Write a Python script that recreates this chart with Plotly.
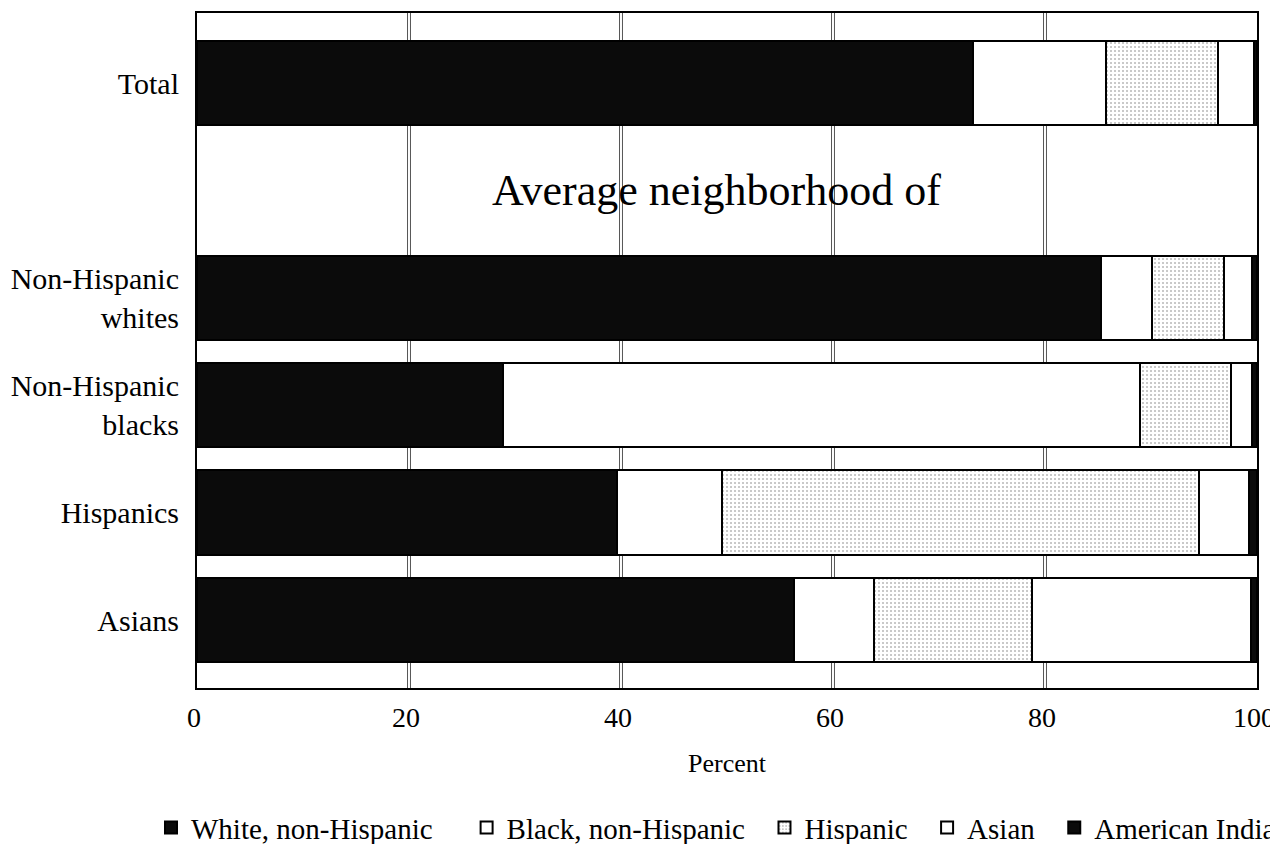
import plotly.graph_objects as go

# Values (percent of average neighbourhood)
groups = ["Total", " ", "Non-Hispanic<br>whites", "Non-Hispanic<br>blacks", "Hispanics", "Asians"]
bar_groups = ["Total", "Non-Hispanic<br>whites", "Non-Hispanic<br>blacks", "Hispanics", "Asians"]

white_nh = [73.2, 85.3, 28.9, 39.6, 56.3]
black_nh = [12.6, 4.8, 60.1, 9.9, 7.6]
hispanic = [10.5, 6.8, 8.5, 45.0, 14.9]
asian = [3.4, 2.6, 2.0, 4.7, 20.6]
american_indian = [0.3, 0.5, 0.5, 0.8, 0.6]

x_ticks = [0, 20, 40, 60, 80, 100]

SERIF = "Liberation Serif, Times New Roman, serif"
NBSP = "\u00a0"  # used to space the legend entries like the print

# (name, values, marker style, trailing legend padding)
series = [
    ("White, non-Hispanic", white_nh, dict(color="#0b0b0b"), 4),
    ("Black, non-Hispanic", black_nh, dict(color="white"), 2),
    ("Hispanic", hispanic, dict(color="white",
                                pattern=dict(shape=".", fgcolor="#777777", bgcolor="white",
                                             size=4, solidity=0.22)), 2),
    ("Asian", asian, dict(color="white"), 2),
    ("American Indian", american_indian, dict(color="#0b0b0b"), 0),
]

fig = go.Figure()

for name, vals, marker, pad in series:
    fig.add_trace(
        go.Bar(
            x=vals,
            y=bar_groups,
            orientation="h",
            name=name + NBSP * pad,
            marker=dict(**marker, line=dict(color="black", width=2)),
        )
    )

# double grid lines like the printed figure (hidden behind the bars)
for v in x_ticks[1:-1]:
    for off in (-0.14, 0.14):
        fig.add_vline(x=v + off, line_color="#555555", line_width=1, layer="below")

fig.add_annotation(
    x=49, y=" ", text="Average neighborhood of", showarrow=False,
    font=dict(family=SERIF, size=44, color="black"),
)

fig.update_layout(
    width=1270,
    height=836,
    barmode="stack",
    bargap=0.215,
    plot_bgcolor="white",
    paper_bgcolor="white",
    margin=dict(l=189, r=21, t=5, b=156, autoexpand=False),
    font=dict(family=SERIF, color="black"),
    showlegend=True,
    legend=dict(
        orientation="h",
        x=-0.0434, xanchor="left",
        y=-0.207, yanchor="middle",
        font=dict(family=SERIF, size=29),
        traceorder="normal",
    ),
    xaxis=dict(
        range=[0, 100],
        tickvals=x_ticks,
        showgrid=False,
        zeroline=False,
        showline=True, mirror=True, linecolor="black", linewidth=2,
        tickfont=dict(size=28),
        ticklabelstandoff=3,
        ticklabelshift=-3,
        title=dict(text="Percent", font=dict(size=26), standoff=22),
    ),
    yaxis=dict(
        type="category",
        categoryorder="array",
        categoryarray=groups,
        range=[5.633, -0.652],
        showgrid=False,
        zeroline=False,
        showline=True, mirror=True, linecolor="black", linewidth=2,
        tickfont=dict(size=30),
        ticklabelstandoff=10,
    ),
)

fig.write_html("out.html")
